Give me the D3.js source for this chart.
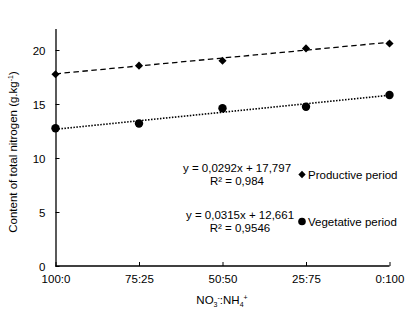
<!DOCTYPE html>
<html>
<head>
<meta charset="utf-8">
<script src="https://cdn.jsdelivr.net/npm/d3@7"></script>
<style>
  body { margin: 0; background: #fff; }
  text { font-family: "Liberation Sans", Arial, sans-serif; fill: #000; }
</style>
</head>
<body>
<div id="chart"></div>
<script>
// ratios of nitrate to ammonium
const ratios = ['100:0', '75:25', '50:50', '25:75', '0:100'];
const productive = [17.75, 18.55, 19.0, 20.15, 20.6];
const vegetative = [12.75, 13.2, 14.6, 14.75, 15.83];
const yTicks = [0, 5, 10, 15, 20];
// trendline coefficients (x runs 0..100 over the categories)
const productiveFit = { a: 0.0292, b: 17.797, r2: '0,984', eq: 'y = 0,0292x + 17,797' };
const vegetativeFit = { a: 0.0315, b: 12.661, r2: '0,9546', eq: 'y = 0,0315x + 12,661' };
const fitX = [0, 100];

const width = 414, height = 312;
const svg = d3.select('#chart').append('svg').attr('width', width).attr('height', height);

const x = d3.scalePoint().domain(ratios).range([55.5, 389.5]);
const xLin = d3.scaleLinear().domain([0, 100]).range([55.5, 389.5]);
const y = d3.scaleLinear().domain([0, 22]).range([266, 28.4]);

// axes
const yAxis = svg.append('g').attr('transform', 'translate(55.5,0)')
  .call(d3.axisLeft(y).tickValues(yTicks).tickSizeInner(-4).tickSizeOuter(0).tickPadding(10));
const xAxis = svg.append('g').attr('transform', 'translate(0,266)')
  .call(d3.axisBottom(x).tickSizeInner(-4).tickSizeOuter(0).tickPadding(9));
[yAxis, xAxis].forEach(g => {
  g.select('.domain').attr('stroke', '#000').attr('stroke-width', 1.3);
  g.selectAll('.tick line').attr('stroke', '#000').attr('stroke-width', 1);
  g.selectAll('.tick text').attr('font-size', 11.5).attr('font-family', '"Liberation Sans", Arial, sans-serif').attr('fill', '#000');
});
xAxis.select('.domain').attr('d', 'M55.5,0H389.5');
yAxis.selectAll('.tick text').attr('dy', '0.35em');
xAxis.selectAll('.tick text').attr('dy', '0.71em');

// trendlines
const fitLine = fit => d3.line().x(d => xLin(d)).y(d => y(fit.a * d + fit.b));
svg.append('path').datum(fitX).attr('d', fitLine(productiveFit))
  .attr('fill', 'none').attr('stroke', '#000').attr('stroke-width', 1.3).attr('stroke-dasharray', '5.5,3.5');
svg.append('path').datum(fitX).attr('d', fitLine(vegetativeFit))
  .attr('fill', 'none').attr('stroke', '#000').attr('stroke-width', 1.6).attr('stroke-dasharray', '1.5,1.5');

// markers
svg.append('g').selectAll('path').data(productive).enter().append('path')
  .attr('d', d3.symbol().type(d3.symbolDiamond2).size(42))
  .attr('transform', (d, i) => 'translate(' + x(ratios[i]) + ',' + y(d) + ')')
  .attr('fill', '#000');
svg.append('g').selectAll('circle').data(vegetative).enter().append('circle')
  .attr('cx', (d, i) => x(ratios[i])).attr('cy', d => y(d)).attr('r', 4.2)
  .attr('fill', '#000');

// equations + legend
const eqs = [
  { fit: productiveFit, cx: 237, ey: 172, name: 'Productive period', sym: 'diamond' },
  { fit: vegetativeFit, cx: 240, ey: 219, name: 'Vegetative period', sym: 'circle' }
];
eqs.forEach(e => {
  svg.append('text').attr('x', e.cx).attr('y', e.ey).attr('text-anchor', 'middle')
    .attr('font-size', 11.5).text(e.fit.eq);
  svg.append('text').attr('x', e.cx).attr('y', e.ey + 13).attr('text-anchor', 'middle')
    .attr('font-size', 11.5).text('R² = ' + e.fit.r2);
  if (e.sym === 'diamond') {
    svg.append('path').attr('d', d3.symbol().type(d3.symbolDiamond2).size(34))
      .attr('transform', 'translate(302,' + (e.ey + 2.5) + ')').attr('fill', '#000');
  } else {
    svg.append('circle').attr('cx', 302).attr('cy', e.ey + 2.5).attr('r', 3.8).attr('fill', '#000');
  }
  svg.append('text').attr('x', 308).attr('y', e.ey + 6.5).attr('font-size', 11.5).text(e.name);
});

// axis titles
const yt = svg.append('text').attr('transform', 'translate(17,152) rotate(-90)')
  .attr('text-anchor', 'middle').attr('font-size', 11.5);
yt.append('tspan').text('Content of total nitrogen (g.kg');
yt.append('tspan').attr('font-size', 7).attr('dy', -4).text('-1');
yt.append('tspan').attr('dy', 4).text(')');

const xt = svg.append('text').attr('x', 222).attr('y', 304).attr('text-anchor', 'middle').attr('font-size', 11.5);
xt.append('tspan').text('NO');
xt.append('tspan').attr('font-size', 7).attr('dy', 3).text('3');
xt.append('tspan').attr('font-size', 7).attr('dy', -7).text('-');
xt.append('tspan').attr('dy', 4).text(':NH');
xt.append('tspan').attr('font-size', 7).attr('dy', 3).text('4');
xt.append('tspan').attr('font-size', 7).attr('dy', -7).text('+');
</script>
</body>
</html>
